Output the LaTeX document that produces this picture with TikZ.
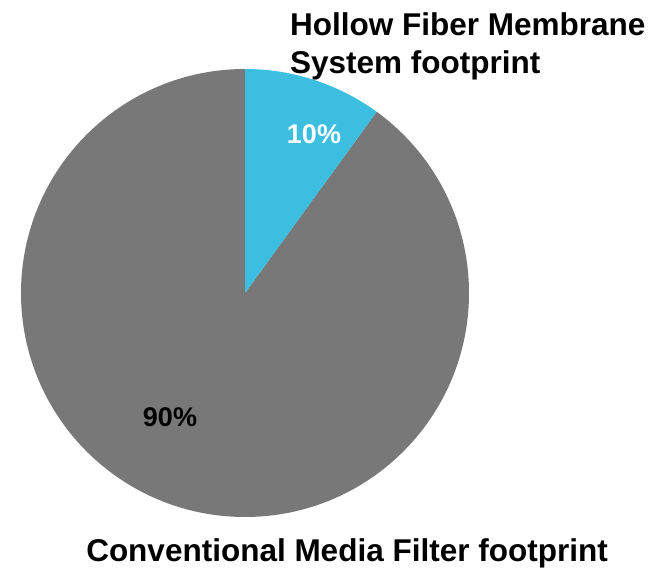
\documentclass[tikz,border=0pt]{standalone}
\usepackage{fontspec}
\setmainfont{Liberation Sans}
\definecolor{piegray}{RGB}{120,120,120}
\definecolor{pieblue}{RGB}{59,190,224}
\tikzset{
  lbl/.style={font=\bfseries\fontsize{31.5}{38}\selectfont, inner sep=0pt},
  pct/.style={font=\bfseries\fontsize{27}{32}\selectfont, inner sep=0pt}
}
\begin{document}
\begin{tikzpicture}[x=1pt,y=1pt]
\useasboundingbox (0,0) rectangle (664,571);
\coordinate (c) at (245,278);
\fill[piegray] (c) -- ++(90:224) arc (90:414:224) -- cycle;
\fill[pieblue] (c) -- ++(54:224) arc (54:90:224) -- cycle;
\node[lbl, anchor=base west, align=left] (hf) at (290,497) {Hollow Fiber Membrane\\System footprint};
\node[pct, anchor=base, text=white] (p10) at (314,427) {10\%};
\node[pct, anchor=base] (p90) at (170,145) {90\%};
\node[lbl, anchor=base] (cm) at (347,10) {Conventional Media Filter footprint};
\end{tikzpicture}
\end{document}
